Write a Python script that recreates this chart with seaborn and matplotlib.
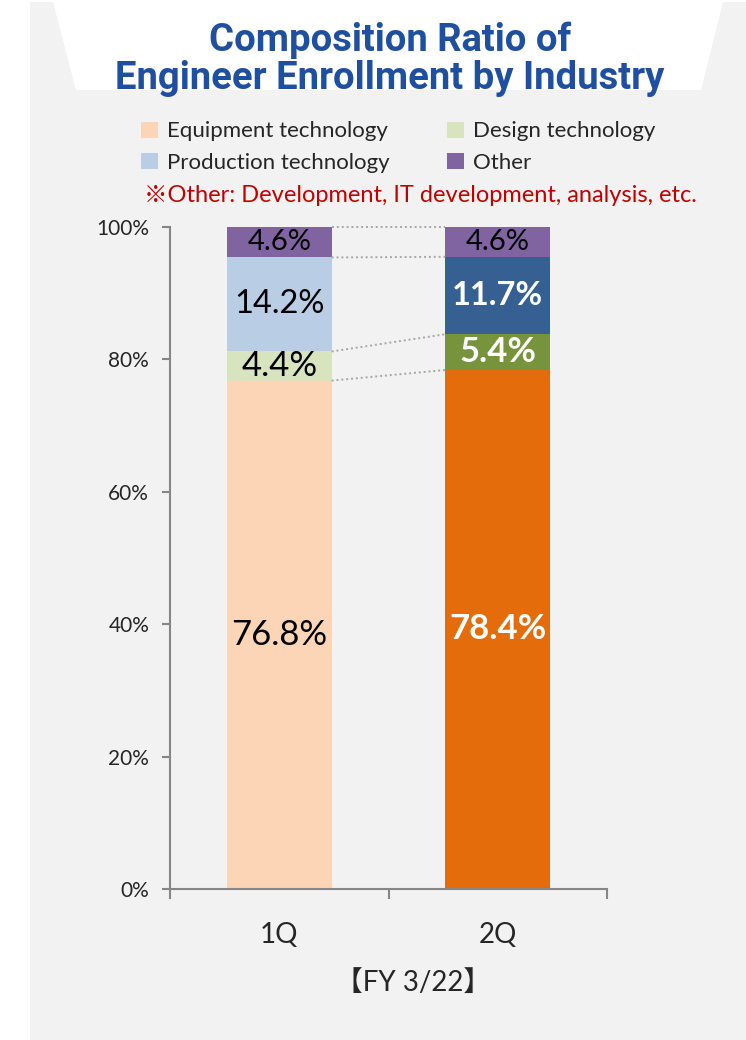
"""
Composition ratio of engineer enrollment by industry (FY 3/22, 1Q vs 2Q).
Stacked 100% bars drawn with seaborn, saved to out.png.
"""

import matplotlib.pyplot as plt
import numpy as np
import pandas as pd
import seaborn as sns
from matplotlib.patches import Patch, Polygon

# --- data ---
quarters = ["1Q", "2Q"]
categories = ["Equipment technology", "Design technology",
              "Production technology", "Other"]
share_1q = [76.8, 4.4, 14.2, 4.6]
share_2q = [78.4, 5.4, 11.7, 4.6]

colors_1q = ["#FBD5B5", "#D7E4BD", "#B9CDE5", "#8064A2"]
colors_2q = ["#E46C0A", "#77933C", "#376092", "#8064A2"]

title = "Composition Ratio of\nEngineer Enrollment by Industry"
note = "※Other: Development, IT development, analysis, etc."
xlabel = "【FY 3/22】"

W, H = 746, 1040

sns.set_theme(style="white")
plt.rcParams["font.family"] = ["Lato", "Noto Sans CJK JP", "DejaVu Sans"]

df = pd.DataFrame({
    "quarter": np.repeat(quarters, len(categories)),
    "category": categories * len(quarters),
    "share": share_1q + share_2q,
})
df["top"] = df.groupby("quarter")["share"].cumsum()
df["bottom"] = df["top"] - df["share"]

fig = plt.figure(figsize=(W / 100, H / 100), dpi=100, facecolor="white")

# light gray panel with the white notch behind the title
panel = [(30, 2), (53, 2), (76, 90), (701, 90), (723, 2), (746, 2),
         (746, 1040), (30, 1040)]
fig.patches.append(Polygon([(x / W, 1 - y / H) for x, y in panel],
                           closed=True, transform=fig.transFigure,
                           facecolor="#F2F2F2", edgecolor="none", zorder=-10))

ax = fig.add_axes([170 / W, 1 - 889 / H, (607 - 170) / W, (889 - 227) / H])
ax.set_facecolor("none")

bar_w = 0.48
# draw cumulative totals from the top segment down so each one overlaps
for cat in reversed(categories):
    sub = df[df["category"] == cat]
    i = categories.index(cat)
    sns.barplot(data=sub, x="quarter", y="top", hue="quarter",
                palette=[colors_1q[i], colors_2q[i]], width=bar_w,
                saturation=1, legend=False, ax=ax, linewidth=0)

ax.set_xlim(-0.5, 1.5)
ax.set_ylim(0, 100)

# dotted connectors between segment boundaries
tops_1q = df[df["quarter"] == "1Q"]["top"].to_numpy()
tops_2q = df[df["quarter"] == "2Q"]["top"].to_numpy()
for a, b in zip(tops_1q, tops_2q):
    ax.plot([bar_w / 2, 1 - bar_w / 2], [a, min(b, 100)], ls=(0, (1, 1.5)),
            color="#A6A6A6", lw=1.4, clip_on=False)

# segment labels
label_sizes = [25, 25, 23.5, 21]
for _, row in df.iterrows():
    xi = quarters.index(row["quarter"])
    ci = categories.index(row["category"])
    mid = (row["bottom"] + min(row["top"], 100)) / 2
    dark = xi == 1 and ci < 3
    ax.text(xi, mid, f"{row['share']:.1f}%", ha="center", va="center",
            fontsize=label_sizes[ci], color="white" if dark else "black",
            fontweight="bold" if dark else "normal")

# axes styling
for side in ["top", "right"]:
    ax.spines[side].set_visible(False)
for side in ["left", "bottom"]:
    ax.spines[side].set_color("#868686")
    ax.spines[side].set_linewidth(1.5)
ax.set_yticks(np.arange(0, 101, 20))
ax.set_yticklabels([f"{v}%" for v in range(0, 101, 20)], fontsize=15)
ax.tick_params(axis="y", length=6, width=1.5, color="#868686", pad=9,
               left=True)
ax.set_xticks([0, 1])
ax.set_xticklabels(quarters, fontsize=20)
ax.set_xticks([-0.5, 0.5, 1.5], minor=True)
ax.tick_params(axis="x", which="major", length=0, pad=24)
ax.tick_params(axis="x", which="minor", length=7, width=1.5,
               color="#868686", bottom=True)
ax.set_xlabel("")
ax.set_ylabel("")

fig.text(413 / W, 1 - 983 / H, xlabel, ha="center", va="center",
         fontsize=20)

# title and note
fig.text(390 / W, 1 - 59 / H, title, ha="center", va="center",
         fontsize=27.5, fontweight="bold", color="#1F4FA0",
         family=["Roboto", "DejaVu Sans"], linespacing=1.02)
fig.text(420 / W, 1 - 196 / H, note, ha="center", va="center",
         fontsize=17, color="#C00000")

handles = [Patch(facecolor=c, edgecolor="none") for c in
           [colors_1q[0], colors_1q[2], colors_1q[1], colors_1q[3]]]
labels = [categories[0], categories[2], categories[1], categories[3]]
fig.legend(handles, labels, ncol=2, frameon=False, fontsize=16,
           loc="center", bbox_to_anchor=(398 / W, 1 - 147 / H),
           handlelength=0.75, handleheight=0.75, handletextpad=0.4,
           columnspacing=2.6, labelspacing=0.5)

fig.savefig("out.png", dpi=100, facecolor="white")
